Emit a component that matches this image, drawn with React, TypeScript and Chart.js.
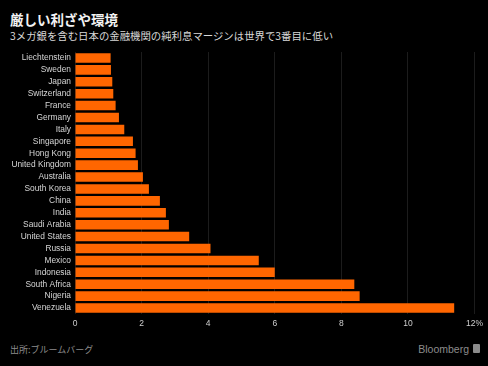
import React, { useEffect, useRef } from "react";
import { Chart, registerables } from "chart.js";

Chart.register(...registerables);

const countries = [
  "Liechtenstein", "Sweden", "Japan", "Switzerland", "France", "Germany", "Italy",
  "Singapore", "Hong Kong", "United Kingdom", "Australia", "South Korea", "China",
  "India", "Saudi Arabia", "United States", "Russia", "Mexico", "Indonesia",
  "South Africa", "Nigeria", "Venezuela",
];
const margins = [
  1.07, 1.08, 1.12, 1.15, 1.22, 1.32, 1.48, 1.74, 1.82, 1.89, 2.04, 2.22, 2.55,
  2.73, 2.82, 3.43, 4.07, 5.52, 6.0, 8.39, 8.55, 11.39,
];
const xTicks = [0, 2, 4, 6, 8, 10, 12];

const title = "厳しい利ざや環境";
const subtitle = "3メガ銀を含む日本の金融機関の純利息マージンは世界で3番目に低い";
const source = "出所:ブルームバーグ";

export default function App() {
  const ref = useRef<HTMLCanvasElement | null>(null);
  useEffect(() => {
    document.body.style.margin = "0";
    document.body.style.background = "#000";
    const chart = new Chart(ref.current as HTMLCanvasElement, {
      type: "bar",
      data: {
        labels: countries,
        datasets: [
          {
            data: margins,
            backgroundColor: "#ff6600",
            borderWidth: 0,
            barPercentage: 0.8,
            categoryPercentage: 1,
          },
        ],
      },
      options: {
        indexAxis: "y",
        animation: false,
        responsive: false,
        maintainAspectRatio: false,
        layout: { padding: { left: 3, right: 13, top: 12, bottom: 6 } },
        plugins: { legend: { display: false }, tooltip: { enabled: false } },
        scales: {
          x: {
            min: 0,
            max: 12,
            afterBuildTicks: (s: any) => {
              s.ticks = xTicks.map((v) => ({ value: v }));
            },
            afterFit: (s: any) => {
              s.height = 20;
            },
            grid: { color: "#1c1c1c", lineWidth: 1, drawTicks: false },
            border: { display: false },
            ticks: {
              color: "#cfcfcf",
              padding: 5,
              maxRotation: 0,
              font: { family: "'Liberation Sans', Arial, sans-serif", size: 8.5 },
              callback: (v: any) => (Number(v) === 12 ? "12%" : String(v)),
            },
          },
          y: {
            afterFit: (s: any) => {
              s.width = 72;
            },
            grid: { display: false, drawTicks: false },
            border: { display: false },
            ticks: {
              color: "#d6d6d6",
              padding: 4,
              autoSkip: false,
              font: { family: "'Liberation Sans', Arial, sans-serif", size: 8.4 },
            },
          },
        },
      },
    });
    return () => chart.destroy();
  }, []);

  return (
    <div
      style={{
        position: "fixed",
        left: 0,
        top: 0,
        width: 488,
        height: 366,
        background: "#000",
        overflow: "hidden",
      }}
    >
      <div
        style={{
          position: "absolute",
          left: 10,
          top: 10,
          color: "#f2f2f2",
          fontFamily: "'Noto Sans CJK JP', sans-serif",
          fontWeight: 700,
          fontSize: 13.5,
          lineHeight: "18px",
          whiteSpace: "nowrap",
        }}
      >
        {title}
      </div>
      <div
        style={{
          position: "absolute",
          left: 10,
          top: 29,
          color: "#d8d8d8",
          fontFamily: "'Noto Sans CJK JP', sans-serif",
          fontSize: 10.4,
          lineHeight: "14px",
          whiteSpace: "nowrap",
        }}
      >
        {subtitle}
      </div>
      <canvas
        ref={ref}
        width={488}
        height={300}
        style={{ position: "absolute", left: 0, top: 40, width: 488, height: 300 }}
      />
      <div
        style={{
          position: "absolute",
          left: 10,
          top: 343,
          color: "#8c8c8c",
          fontFamily: "'Noto Sans CJK JP', sans-serif",
          fontSize: 9,
          lineHeight: "13px",
          whiteSpace: "nowrap",
        }}
      >
        {source}
      </div>
      <div
        style={{
          position: "absolute",
          right: 19,
          top: 342,
          color: "#8c8c8c",
          fontFamily: "'Liberation Sans', Arial, sans-serif",
          fontSize: 10.5,
          lineHeight: "14px",
          whiteSpace: "nowrap",
        }}
      >
        Bloomberg
      </div>
      <div
        style={{
          position: "absolute",
          left: 473,
          top: 344,
          width: 7,
          height: 9,
          background: "#8c8c8c",
          borderRadius: 1,
        }}
      />
    </div>
  );
}
